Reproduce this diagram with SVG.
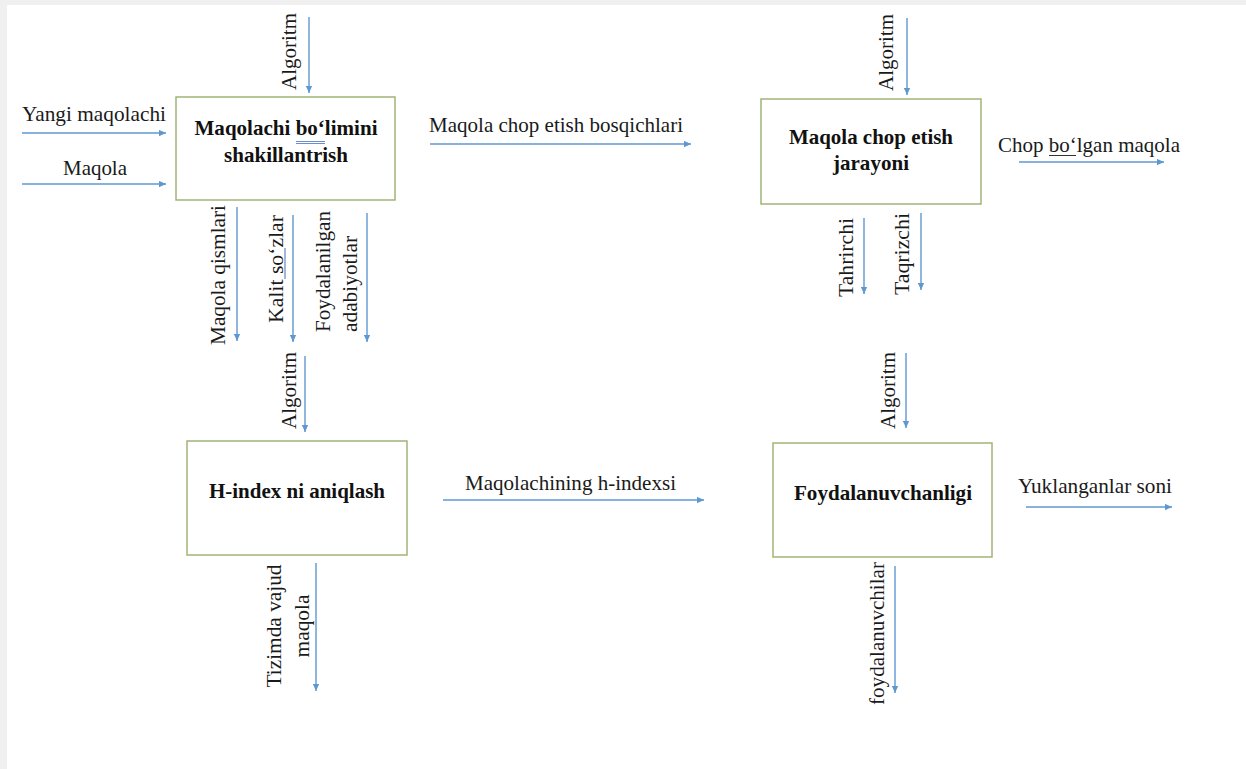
<svg xmlns="http://www.w3.org/2000/svg" width="1246" height="769" viewBox="0 0 1246 769">
<style>
.lbl{font-family:"Liberation Serif","Tinos","Times New Roman","DejaVu Serif",serif;font-size:21px;fill:#1a1a1a}
.box{fill:#ffffff;stroke:#9aae6e;stroke-width:1.4}
.bt{font-family:"Liberation Serif","Tinos","Times New Roman","DejaVu Serif",serif;font-size:21px;font-weight:bold;fill:#111111;text-anchor:middle}
.ar{stroke:#5f98d0;stroke-width:1.4;fill:none;marker-end:url(#ah)}
.mid{text-anchor:middle}
</style>
<defs>
<marker id="ah" viewBox="0 0 10 10" refX="10" refY="5" markerWidth="8" markerHeight="7" markerUnits="userSpaceOnUse" orient="auto">
<path d="M0,0.5 L10,5 L0,9.5 z" fill="#5f98d0"/>
</marker>
</defs>
<rect x="0" y="0" width="1246" height="769" fill="#f0f0f0"/>
<rect x="7" y="5" width="1239" height="764" fill="#ffffff"/>

<g id="connectors">
<line class="ar" x1="309" y1="17" x2="309" y2="93"/>
<line class="ar" x1="22" y1="133" x2="166" y2="133"/>
<line class="ar" x1="22" y1="184" x2="166" y2="184"/>
<line class="ar" x1="430" y1="144" x2="691" y2="144"/>
<line class="ar" x1="907" y1="18" x2="907" y2="95"/>
<line class="ar" x1="1019" y1="162" x2="1164" y2="162"/>
<line class="ar" x1="237" y1="207" x2="237" y2="341"/>
<line class="ar" x1="293" y1="215" x2="293" y2="342"/>
<line class="ar" x1="367" y1="213" x2="367" y2="342"/>
<line class="ar" x1="864" y1="218" x2="864" y2="294"/>
<line class="ar" x1="921" y1="213" x2="921" y2="290"/>
<line class="ar" x1="305" y1="356" x2="305" y2="432"/>
<line class="ar" x1="443" y1="500" x2="704" y2="500"/>
<line class="ar" x1="906" y1="353" x2="906" y2="428"/>
<line class="ar" x1="1026" y1="507" x2="1172" y2="507"/>
<line class="ar" x1="316" y1="563" x2="316" y2="691"/>
<line class="ar" x1="895" y1="566" x2="895" y2="693"/>
</g>

<g id="labels">
<text class="lbl" transform="translate(296,90) rotate(-90)" textLength="77" lengthAdjust="spacingAndGlyphs">Algoritm</text>
<text class="lbl mid" x="94" y="121" textLength="144" lengthAdjust="spacingAndGlyphs">Yangi maqolachi</text>
<text class="lbl mid" x="95" y="175" textLength="64" lengthAdjust="spacingAndGlyphs">Maqola</text>
<text class="lbl" x="429" y="132" textLength="254" lengthAdjust="spacingAndGlyphs">Maqola chop etish bosqichlari</text>
<text class="lbl" transform="translate(893,91) rotate(-90)" textLength="77" lengthAdjust="spacingAndGlyphs">Algoritm</text>
<text class="lbl" x="998" y="152" textLength="182" lengthAdjust="spacingAndGlyphs">Chop bo‘lgan maqola</text>
<line x1="1049" y1="155.5" x2="1076" y2="155.5" stroke="#333333" stroke-width="1"/>
<text class="lbl" transform="translate(225,345) rotate(-90)" textLength="140" lengthAdjust="spacingAndGlyphs">Maqola qismlari</text>
<text class="lbl" transform="translate(283,323) rotate(-90)" textLength="108" lengthAdjust="spacingAndGlyphs">Kalit so‘zlar</text>
<line x1="285" y1="279" x2="285" y2="248" stroke="#4a6fb0" stroke-width="1"/>
<text class="lbl" transform="translate(330,332) rotate(-90)" textLength="121" lengthAdjust="spacingAndGlyphs">Foydalanilgan</text>
<text class="lbl" transform="translate(357,332) rotate(-90)" textLength="96" lengthAdjust="spacingAndGlyphs">adabiyotlar</text>
<text class="lbl" transform="translate(853,297) rotate(-90)" textLength="79" lengthAdjust="spacingAndGlyphs">Tahrirchi</text>
<text class="lbl" transform="translate(909,295) rotate(-90)" textLength="82" lengthAdjust="spacingAndGlyphs">Taqrizchi</text>
<text class="lbl" transform="translate(296,429) rotate(-90)" textLength="77" lengthAdjust="spacingAndGlyphs">Algoritm</text>
<text class="lbl" x="465" y="490" textLength="211" lengthAdjust="spacingAndGlyphs">Maqolachining h-indexsi</text>
<text class="lbl" transform="translate(895,429) rotate(-90)" textLength="77" lengthAdjust="spacingAndGlyphs">Algoritm</text>
<text class="lbl" x="1018" y="493" textLength="154" lengthAdjust="spacingAndGlyphs">Yuklanganlar soni</text>
<text class="lbl mid" transform="translate(281,626) rotate(-90)" textLength="123" lengthAdjust="spacingAndGlyphs">Tizimda vajud</text>
<text class="lbl mid" transform="translate(309,626) rotate(-90)" textLength="63" lengthAdjust="spacingAndGlyphs">maqola</text>
<text class="lbl" transform="translate(884,705) rotate(-90)" textLength="143" lengthAdjust="spacingAndGlyphs">foydalanuvchilar</text>
</g>

<g id="node-maqolachi">
<rect class="box" x="176" y="97" width="219" height="103"/>
<text class="bt" x="286" y="135" textLength="183" lengthAdjust="spacingAndGlyphs">Maqolachi bo‘limini</text>
<text class="bt" x="286" y="162" textLength="124" lengthAdjust="spacingAndGlyphs">shakillantrish</text>
<line x1="296" y1="141.5" x2="325" y2="141.5" stroke="#4472c4" stroke-width="0.8"/>
<line x1="296" y1="143.5" x2="325" y2="143.5" stroke="#4472c4" stroke-width="0.8"/>
</g>

<g id="node-chop">
<rect class="box" x="761" y="99" width="220" height="105"/>
<text class="bt" x="871" y="144" textLength="164" lengthAdjust="spacingAndGlyphs">Maqola chop etish</text>
<text class="bt" x="871" y="170" textLength="76" lengthAdjust="spacingAndGlyphs">jarayoni</text>
</g>

<g id="node-hindex">
<rect class="box" x="187" y="441" width="220" height="114"/>
<text class="bt" x="297" y="498" textLength="176" lengthAdjust="spacingAndGlyphs">H-index ni aniqlash</text>
</g>

<g id="node-foydalanuvchanligi">
<rect class="box" x="773" y="443" width="219" height="114"/>
<text class="bt" x="883" y="500" textLength="178" lengthAdjust="spacingAndGlyphs">Foydalanuvchanligi</text>
</g>
</svg>
